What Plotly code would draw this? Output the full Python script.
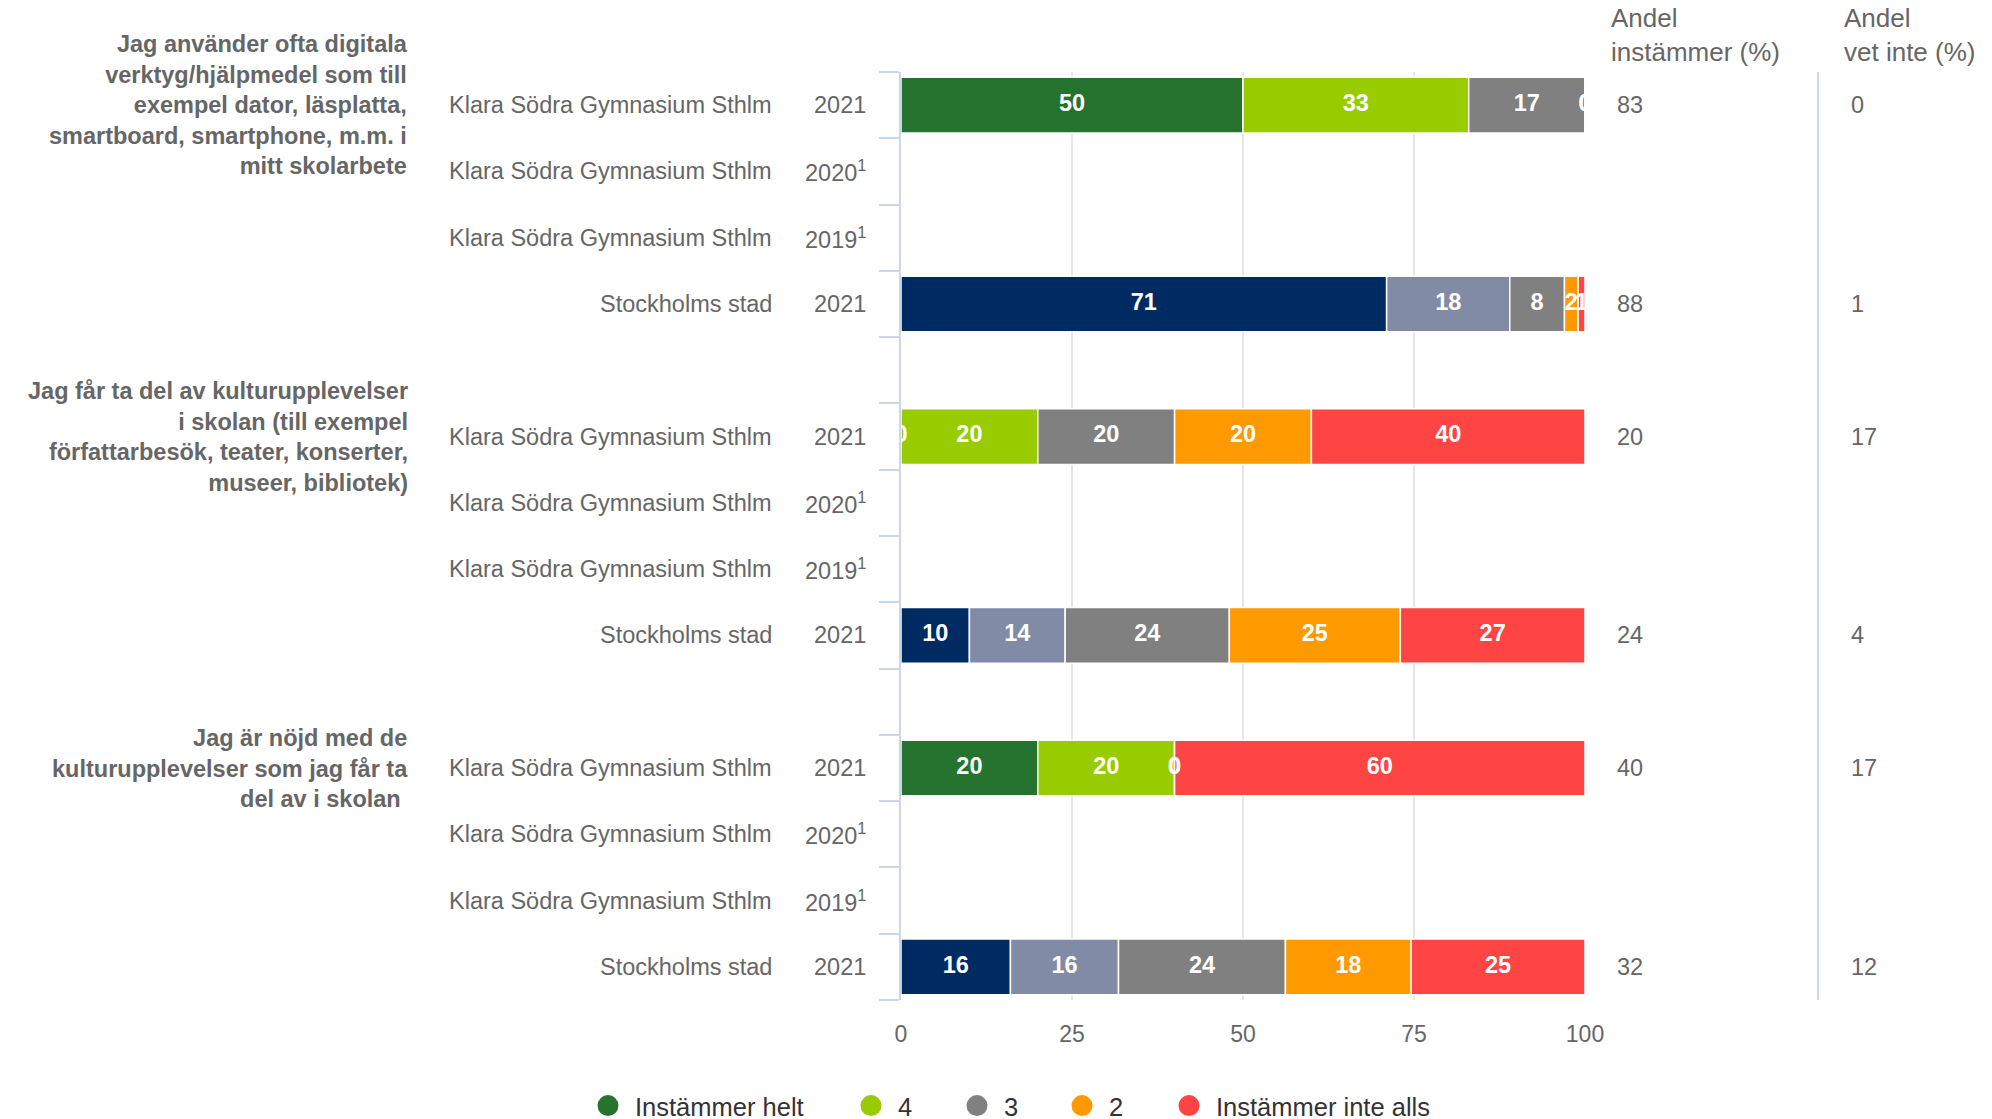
import plotly.graph_objects as go

# ---------------- data ----------------
questions = [
    "Jag använder ofta digitala<br>verktyg/hjälpmedel som till<br>exempel dator, läsplatta,<br>smartboard, smartphone, m.m. i<br>mitt skolarbete",
    "Jag får ta del av kulturupplevelser<br>i skolan (till exempel<br>författarbesök, teater, konserter,<br>museer, bibliotek)",
    "Jag är nöjd med de<br>kulturupplevelser som jag får ta<br>del av i skolan ",
]
row_names = ["Klara Södra Gymnasium Sthlm", "Klara Södra Gymnasium Sthlm",
             "Klara Södra Gymnasium Sthlm", "Stockholms stad"]
row_years = ["2021", "2020<sup>1</sup>", "2019<sup>1</sup>", "2021"]
rows_with_data = [0, 3]          # rows (within a question) that have values

series_names = ["Instämmer helt", "4", "3", "2", "Instämmer inte alls"]
school_colors = ["#267330", "#99CC00", "#808080", "#FF9900", "#FF4444"]
city_colors = ["#002B62", "#818BA6", "#808080", "#FF9900", "#FF4444"]

# values per series: [question][school 2021, Stockholms stad 2021]
instammer_helt = [[50, 71], [0, 10], [20, 16.0]]
varde_4 = [[33, 18], [20, 14], [20, 15.8]]
varde_3 = [[17, 8], [20, 24], [0, 24.4]]
varde_2 = [[0, 2], [20, 25], [0, 18.4]]
instammer_inte_alls = [[0, 1], [40, 27], [60, 25.4]]
series_values = [instammer_helt, varde_4, varde_3, varde_2, instammer_inte_alls]

andel_instammer = [[83, 88], [20, 24], [40, 32]]
andel_vet_inte = [[0, 1], [17, 4], [17, 12]]

x_ticks = [0, 25, 50, 75, 100]

# ---------------- layout helpers ----------------
ROWS_PER_Q = 5  # 4 rows + 1 empty gap row
FONT = "Liberation Sans, Arial, Helvetica, sans-serif"
TXT = "#666666"
W, H = 1984, 1111   # page body has an 8px margin

def row_pos(q, r):
    return q * ROWS_PER_Q + r

fig = go.Figure()

# stacked bars
bases = {}
for s_idx, (name, vals) in enumerate(zip(series_names, series_values)):
    xs, ys, bs, cols = [], [], [], []
    for q in range(len(questions)):
        for k, r in enumerate(rows_with_data):
            y = row_pos(q, r)
            b = bases.get(y, 0)
            v = vals[q][k]
            xs.append(v)
            ys.append(y)
            bs.append(b)
            cols.append(school_colors[s_idx] if k == 0 else city_colors[s_idx])
            bases[y] = b + v
    fig.add_trace(go.Bar(
        x=xs, y=ys, base=bs, orientation="h", width=0.84,
        marker=dict(color=cols, line=dict(color="white", width=1.5)),
        name=name, showlegend=False, hoverinfo="skip",
    ))
    # data labels centred in each segment
    fig.add_trace(go.Scatter(
        x=[b + v / 2 for b, v in zip(bs, xs)], y=ys, mode="text",
        text=[f"{v:.0f}" for v in xs],
        textfont=dict(family=FONT, size=23.5, color="white", weight="bold"),
        showlegend=False, hoverinfo="skip", cliponaxis=True,
    ))

# legend entries (circles), each in its own legend box for spacing
legend_text_x = [629, 892, 998, 1103, 1210]   # text start (px) of each entry
ITEMW = 44
legend_layouts = {}
for i, (name, col) in enumerate(zip(series_names, school_colors)):
    lg = "legend" if i == 0 else f"legend{i + 1}"
    fig.add_trace(go.Scatter(
        x=[None], y=[None], mode="markers", name=name, legend=lg,
        marker=dict(color=col, size=16, symbol="circle",
                    line=dict(color=col, width=6)),
    ))
    legend_layouts[lg] = dict(
        orientation="h", xref="container", yref="container",
        x=(legend_text_x[i] - (ITEMW + 12)) / W, xanchor="left",
        y=1 - 1098 / H, yanchor="middle", itemwidth=ITEMW,
        font=dict(family=FONT, size=25.5, color="#333333"),
        itemclick=False, itemdoubleclick=False, bgcolor="rgba(0,0,0,0)")

annotations = []
last_row = row_pos(len(questions) - 1, len(row_names) - 1)
for q, qtext in enumerate(questions):
    annotations.append(dict(
        xref="paper", yref="y", x=0, y=row_pos(q, 0), xshift=-491,
        xanchor="right", yanchor="middle", align="right", showarrow=False,
        text=f"<b>{qtext}</b>", font=dict(family=FONT, size=23.5, color=TXT),
    ))
    for r in range(len(row_names)):
        y = row_pos(q, r)
        annotations.append(dict(
            xref="paper", yref="y", x=0, y=y, xshift=-127,
            xanchor="right", yanchor="middle", showarrow=False,
            text=row_names[r], font=dict(family=FONT, size=23.5, color=TXT)))
        annotations.append(dict(
            xref="paper", yref="y", x=0, y=y, xshift=-33,
            xanchor="right", yanchor="middle", showarrow=False,
            text=row_years[r], font=dict(family=FONT, size=23.5, color=TXT)))
    for k, r in enumerate(rows_with_data):
        y = row_pos(q, r)
        annotations.append(dict(
            xref="paper", yref="y", x=1, y=y, xshift=30,
            xanchor="left", yanchor="middle", showarrow=False,
            text=str(andel_instammer[q][k]), font=dict(family=FONT, size=23.5, color=TXT)))
        annotations.append(dict(
            xref="paper", yref="y", x=1, y=y, xshift=264,
            xanchor="left", yanchor="middle", showarrow=False,
            text=str(andel_vet_inte[q][k]), font=dict(family=FONT, size=23.5, color=TXT)))

annotations.append(dict(
    xref="paper", yref="paper", x=1, y=1, xshift=24, yshift=37,
    xanchor="left", yanchor="middle", align="left", showarrow=False,
    text="Andel<br>instämmer (%)", font=dict(family=FONT, size=26, color=TXT)))
annotations.append(dict(
    xref="paper", yref="paper", x=1, y=1, xshift=257, yshift=37,
    xanchor="left", yanchor="middle", align="left", showarrow=False,
    text="Andel<br>vet inte (%)", font=dict(family=FONT, size=26, color=TXT)))

fig.update_layout(
    width=W, height=H,
    margin=dict(l=893, r=407, t=64, b=119, autoexpand=False),
    paper_bgcolor="white", plot_bgcolor="white",
    barmode="overlay",
    font=dict(family=FONT, color=TXT),
    xaxis=dict(range=[0, 100], tickvals=x_ticks, showgrid=True,
               gridcolor="#e6e6e6", gridwidth=1.5, zeroline=False, showline=False,
               ticks="", tickfont=dict(family=FONT, size=23, color=TXT),
               ticklabelstandoff=18, fixedrange=True),
    yaxis=dict(range=[last_row + 0.5, -0.5], tickmode="array",
               tickvals=[i - 0.5 for i in range(last_row + 2)],
               showticklabels=False, ticks="outside", ticklen=20,
               tickcolor="#ccd6eb", tickwidth=1.5, showline=True,
               linecolor="#ccd6eb", linewidth=1.5, showgrid=False,
               zeroline=False, fixedrange=True),
    showlegend=True,
    annotations=annotations,
    shapes=[dict(type="line", xref="paper", yref="paper",
                 x0=1.3406, x1=1.3406, y0=0, y1=1,
                 line=dict(color="#ccd6eb", width=2))],
    **legend_layouts,
)

fig.write_html("out.html")
